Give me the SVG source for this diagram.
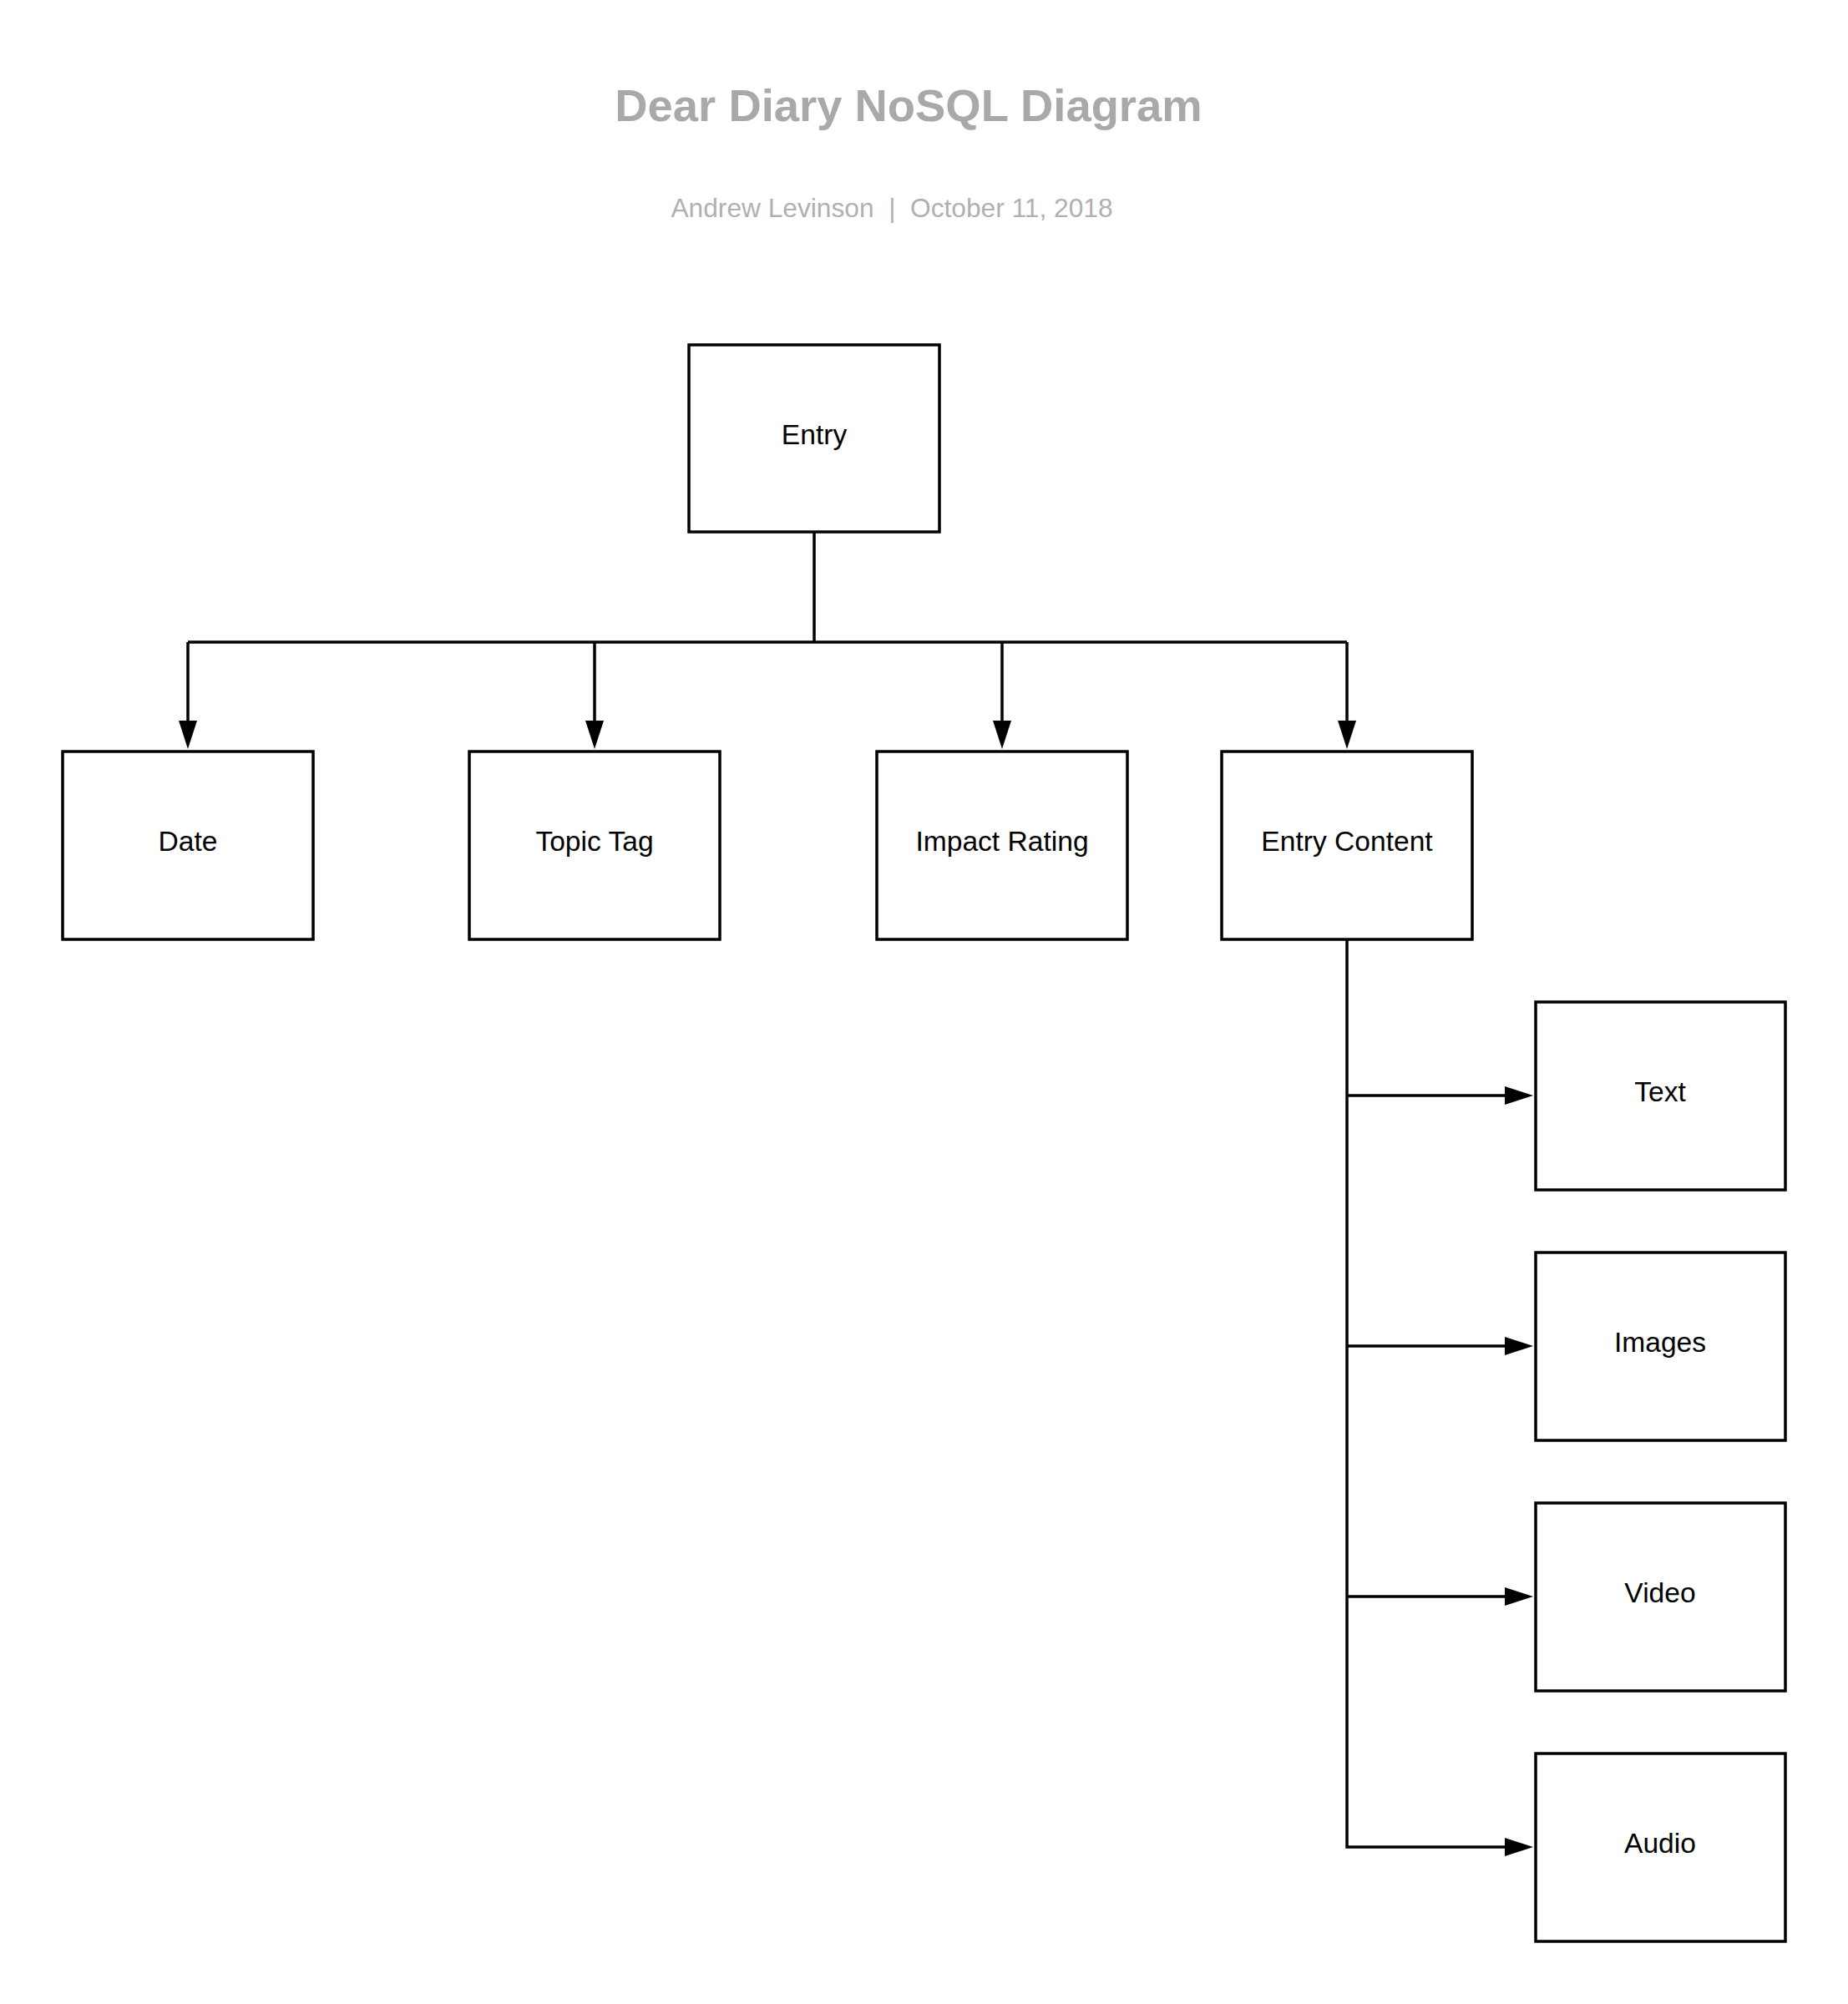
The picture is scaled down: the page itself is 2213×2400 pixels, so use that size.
<svg xmlns="http://www.w3.org/2000/svg" width="2213" height="2400" viewBox="0 0 2213 2400">
<style>
.box{fill:#ffffff;stroke:#000000;stroke-width:3.5}
.lbl{font-family:"Liberation Sans",Arial,sans-serif;font-size:33.6px;fill:#000000;text-anchor:middle}
.conn{fill:none;stroke:#000000;stroke-width:3.5}
.title{font-family:"Liberation Sans",Arial,sans-serif;font-size:54.4px;font-weight:bold;fill:#a9a9a9;text-anchor:middle}
.sub{font-family:"Liberation Sans",Arial,sans-serif;font-size:31.7px;fill:#b0b0b0;text-anchor:middle}
</style>
<defs>
<marker id="arr" viewBox="0 0 34 22" refX="1" refY="11" markerWidth="34" markerHeight="22" markerUnits="userSpaceOnUse" orient="auto">
<path d="M0,0 L34,11 L0,22 z" fill="#000000"/>
</marker>
</defs>
<rect width="2213" height="2400" fill="#ffffff"/>
<text class="title" x="1088" y="145">Dear Diary NoSQL Diagram</text>
<text class="sub" x="1068" y="260" xml:space="preserve">Andrew Levinson  |  October 11, 2018</text>
<g id="connectors">
<path class="conn" d="M975,637 V769"/>
<path class="conn" d="M225,769 H1613"/>
<path class="conn" d="M225,769 V864" marker-end="url(#arr)"/>
<path class="conn" d="M712,769 V864" marker-end="url(#arr)"/>
<path class="conn" d="M1200,769 V864" marker-end="url(#arr)"/>
<path class="conn" d="M1613,769 V864" marker-end="url(#arr)"/>
<path class="conn" d="M1613,1125 V2212 H1803" marker-end="url(#arr)"/>
<path class="conn" d="M1613,1312 H1803" marker-end="url(#arr)"/>
<path class="conn" d="M1613,1612 H1803" marker-end="url(#arr)"/>
<path class="conn" d="M1613,1912 H1803" marker-end="url(#arr)"/>
</g>
<g id="node-entry"><rect class="box" x="825" y="413" width="300" height="224"/><text class="lbl" x="975" y="532">Entry</text></g>
<g id="node-date"><rect class="box" x="75" y="900" width="300" height="225"/><text class="lbl" x="225" y="1019">Date</text></g>
<g id="node-topic"><rect class="box" x="562" y="900" width="300" height="225"/><text class="lbl" x="712" y="1019">Topic Tag</text></g>
<g id="node-impact"><rect class="box" x="1050" y="900" width="300" height="225"/><text class="lbl" x="1200" y="1019">Impact Rating</text></g>
<g id="node-content"><rect class="box" x="1463" y="900" width="300" height="225"/><text class="lbl" x="1613" y="1019">Entry Content</text></g>
<g id="node-text"><rect class="box" x="1839" y="1200" width="299" height="225"/><text class="lbl" x="1988" y="1319">Text</text></g>
<g id="node-images"><rect class="box" x="1839" y="1500" width="299" height="225"/><text class="lbl" x="1988" y="1619">Images</text></g>
<g id="node-video"><rect class="box" x="1839" y="1800" width="299" height="225"/><text class="lbl" x="1988" y="1919">Video</text></g>
<g id="node-audio"><rect class="box" x="1839" y="2100" width="299" height="225"/><text class="lbl" x="1988" y="2219">Audio</text></g>
</svg>
